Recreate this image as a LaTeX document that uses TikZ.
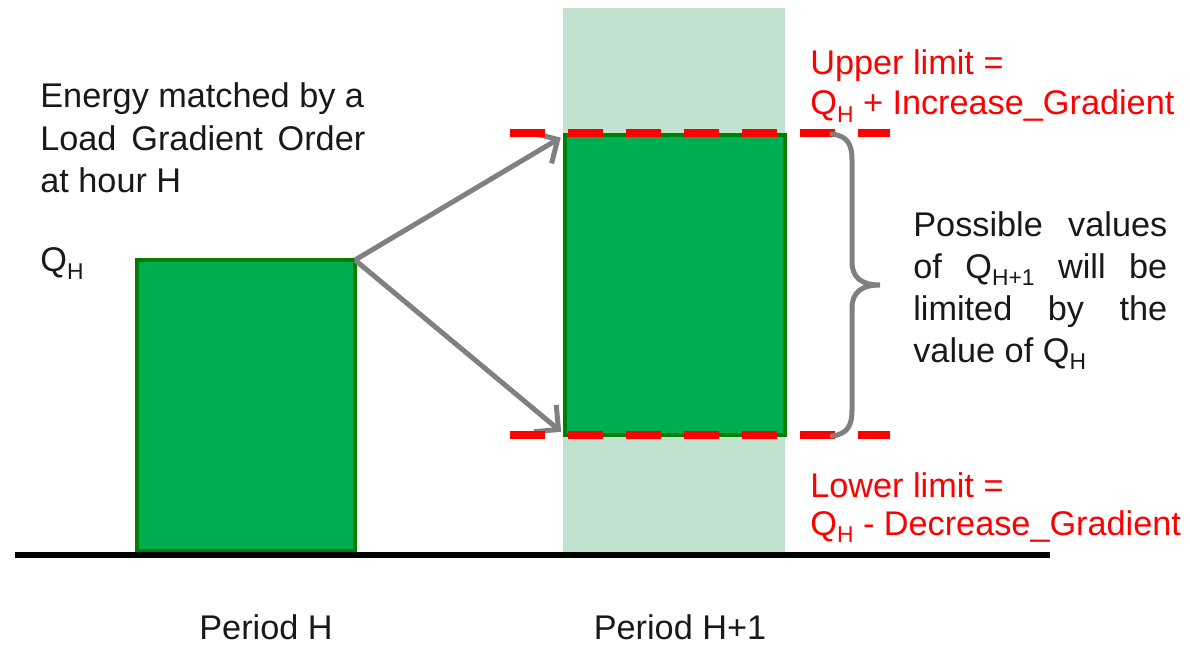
\documentclass[tikz,border=0pt]{standalone}
\usepackage{fontspec}
\setmainfont{Liberation Sans}
\usetikzlibrary{arrows.meta}

\definecolor{barfill}{RGB}{0,173,80}
\definecolor{bardraw}{RGB}{0,128,0}
\definecolor{columnshade}{RGB}{192,226,206}
\definecolor{arrowgray}{RGB}{128,128,128}
\definecolor{limitred}{RGB}{255,0,0}
\definecolor{textdark}{RGB}{25,25,25}

\newcommand{\qsub}[1]{Q\raisebox{-0.22em}{\fontsize{13}{13}\selectfont #1}}

\tikzset{
	txt/.style={anchor=base west, inner sep=0pt, text=textdark, font=\fontsize{19.5}{24}\selectfont},
	redtxt/.style={txt, text=limitred},
	bar/.style={fill=barfill, draw=bardraw, line width=0.08cm, inner sep=0pt, outer sep=0pt},
	limitline/.style={limitred, line width=0.16cm, dash pattern=on 0.7cm off 0.46cm},
	growarrow/.style={arrowgray, line width=0.1cm, shorten >=0.1cm, -{Straight Barb[length=0.35cm,width=0.7cm]}},
}

\begin{document}
\begin{tikzpicture}[x=0.02cm, y=-0.02cm]
	\useasboundingbox (0,0) rectangle (1190,645);

	% period H+1 column
	\fill[columnshade] (563,8) rectangle (785,555);

	% bars
	\node[bar, minimum width=4.36cm, minimum height=5.82cm] (barH) at (246,405.5) {};
	\node[bar, minimum width=4.4cm, minimum height=6cm] (barH1) at (675,285) {};

	% ground
	\draw[line width=0.12cm] (15,555) -- (1050,555);

	% gradient arrows
	\draw[growarrow] (barH.north east) -- (barH1.north west);
	\draw[growarrow] (barH.north east) -- (barH1.south west);

	% limits
	\draw[limitline] (510,133) -- (890,133);
	\draw[limitline] (510,435) -- (890,435);

	% brace
	\draw[arrowgray, line width=0.1cm, line cap=round]
		(832,134) .. controls (848,136) and (852,145) .. (852,160) -- (852,262)
		.. controls (852,278) and (862,285) .. (880,285)
		.. controls (862,285) and (852,292) .. (852,308) -- (852,410)
		.. controls (852,425) and (848,434) .. (832,436);

	% texts
	\node[txt] (energyA) at (40,108) {Energy matched by a};
	\node[txt] (energyB) at (40,151) {\makebox[6.5cm][s]{Load Gradient Order}};
	\node[txt] (energyC) at (40,193) {at hour H};
	\node[txt] (qH) at (40,272) {\qsub{H}};

	\node[redtxt] (upperA) at (810,75) {Upper limit =};
	\node[redtxt] (upperB) at (810,115) {\qsub{H} + Increase\_Gradient};

	\node[txt] (possA) at (913,236) {\makebox[5.08cm][s]{Possible values}};
	\node[txt] (possB) at (913,278) {\makebox[5.08cm][s]{of \qsub{H+1} will be}};
	\node[txt] (possC) at (913,320) {\makebox[5.08cm][s]{limited by the}};
	\node[txt] (possD) at (913,362) {value of \qsub{H}};

	\node[redtxt] (lowerA) at (810,497) {Lower limit =};
	\node[redtxt] (lowerB) at (810,535) {\qsub{H} - Decrease\_Gradient};

	\node[txt, anchor=base] (periodH) at (266,639) {Period H};
	\node[txt, anchor=base] (periodH1) at (680,639) {Period H+1};
\end{tikzpicture}
\end{document}
